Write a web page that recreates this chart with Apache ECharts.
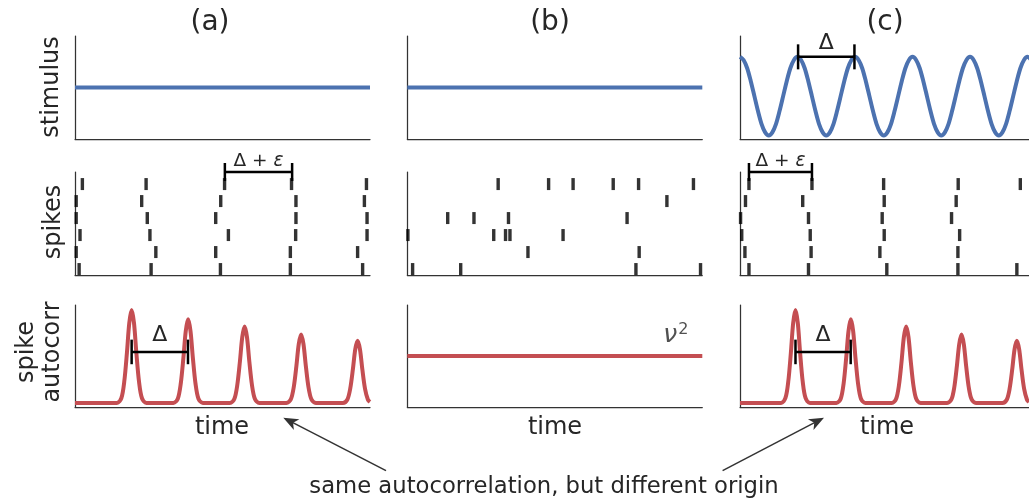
<!DOCTYPE html>
<html><head><meta charset="utf-8">
<script src="https://cdn.jsdelivr.net/npm/echarts@6/dist/echarts.min.js"></script>
<style>html,body{margin:0;padding:0;background:#fff}#chart{width:1029px;height:500px}</style>
</head><body><div id="chart"></div>
<script>
// ---------- text ----------
const panelTitles = ['(a)', '(b)', '(c)'];
const rowLabels = ['stimulus', 'spikes', 'spike\nautocorr'];
const xLabel = 'time';
const footnote = 'same autocorrelation, but different origin';

// ---------- data (time axis 0..100 for every panel) ----------
const stimFlat = [[0, 0], [100, 0]];
const stimOscX = [0, 1.24, 2.49, 3.73, 4.98, 6.22, 7.46, 8.71, 9.95, 11.19, 12.44, 13.68, 14.93, 16.17, 17.41, 18.66,
  19.9, 21.14, 22.39, 23.63, 24.88, 26.12, 27.36, 28.61, 29.85, 31.09, 32.34, 33.58, 34.83, 36.07, 37.31, 38.56,
  39.8, 41.04, 42.29, 43.53, 44.78, 46.02, 47.26, 48.51, 49.75, 50.99, 52.24, 53.48, 54.73, 55.97, 57.21, 58.46,
  59.7, 60.94, 62.19, 63.43, 64.68, 65.92, 67.16, 68.41, 69.65, 70.89, 72.14, 73.38, 74.63, 75.87, 77.11, 78.36,
  79.6, 80.84, 82.09, 83.33, 84.58, 85.82, 87.06, 88.31, 89.55, 90.79, 92.04, 93.28, 94.53, 95.77, 97.01, 98.26,
  99.5, 100.74];
const stimOscY = [1, .92, .71, .38, 0, -.38, -.71, -.92, -1, -.92, -.71, -.38, 0, .38, .71, .92,
  1, .92, .71, .38, 0, -.38, -.71, -.92, -1, -.92, -.71, -.38, 0, .38, .71, .92,
  1, .92, .71, .38, 0, -.38, -.71, -.92, -1, -.92, -.71, -.38, 0, .38, .71, .92,
  1, .92, .71, .38, 0, -.38, -.71, -.92, -1, -.92, -.71, -.38, 0, .38, .71, .92,
  1, .92, .71, .38, 0, -.38, -.71, -.92, -1, -.92, -.71, -.38, 0, .38, .71, .92,
  1, .92];

// spike times per trial, top trial first
const spikesA = [
  [2.5, 24.1, 50.7, 73.4, 98.8],
  [0.4, 22.6, 49.4, 74.9, 98.1],
  [0.4, 24.5, 47.7, 74.9, 99.0],
  [1.7, 25.4, 52.0, 74.8, 99.0],
  [0.4, 27.4, 47.7, 73.0, 95.8],
  [1.4, 25.8, 49.3, 73.0, 97.5]
];
const spikesB = [
  [30.8, 47.9, 56.2, 69.8, 78.4, 97.0],
  [88.0],
  [13.7, 22.6, 34.3, 74.5],
  [0.2, 29.3, 33.3, 34.8, 52.8],
  [40.9, 78.6],
  [1.8, 18.1, 77.5, 99.4]
];
const spikesC = [
  [3.1, 24.9, 49.7, 75.5, 97.0],
  [1.9, 21.7, 49.9, 74.8],
  [0.2, 23.7, 49.2, 73.2],
  [0.6, 24.3, 49.9, 76.0],
  [1.7, 24.6, 48.4, 75.4],
  [3.1, 23.7, 50.8, 75.4, 95.8]
];

const autocorrPeaked = [
  [0, .04],
  [14.2, .04], [15.7, .086], [16.7, .249], [17.6, .531], [18.4, .823], [19.2, .95], [20.0, .823], [20.8, .531], [21.7, .249], [22.7, .086], [24.2, .04],
  [33.35, .04], [34.85, .081], [35.85, .229], [36.75, .483], [37.55, .745], [38.35, .86], [39.15, .745], [39.95, .483], [40.85, .229], [41.85, .081], [43.35, .04],
  [52.5, .04], [54.0, .078], [55.0, .213], [55.9, .445], [56.7, .685], [57.5, .79], [58.3, .685], [59.1, .445], [60.0, .213], [61.0, .078], [62.5, .04],
  [71.65, .04], [73.15, .074], [74.15, .194], [75.05, .402], [75.85, .616], [76.65, .71], [77.45, .616], [78.25, .402], [79.15, .194], [80.15, .074], [81.65, .04],
  [90.8, .04], [92.3, .071], [93.3, .18], [94.2, .369], [95.0, .565], [95.8, .65], [96.6, .565], [97.4, .369], [98.3, .18], [99.3, .071], [100, .05]
];
const autocorrFlat = [[0, 0.5], [100, 0.5]];
const nuLabelPoint = [91.0, 0.705];

// annotation brackets: [start, end, level]
const bracketStimC = [20.1, 39.6, 1.0];
const bracketSpikesA = [50.8, 73.6, 5.71];
const bracketSpikesC = [3.1, 24.9, 5.71];
const bracketAutoA = [19.2, 38.3, 0.54];
const bracketAutoC = [19.2, 38.3, 0.54];

// ---------- layout / style ----------
const FONT = 'DejaVu Sans';
const TXT = '#262626';
const BLUE = '#4C72B0', RED = '#C44E52';
const colLeft = [75, 407.3, 740];
const colWidth = 295;
const rowTop = [36, 172, 305];
const rowHeight = [103, 103, 102];
const yRanges = [
  [[-1, 1], [-1, 1], [-1.09, 1.53]],
  [[-0.35, 5.71], [-0.35, 5.71], [-0.35, 5.71]],
  [[0, 1], [0, 1], [0, 1]]
];

const grids = [], xAxes = [], yAxes = [];
for (let r = 0; r < 3; r++) {
  for (let c = 0; c < 3; c++) {
    grids.push({left: colLeft[c], top: rowTop[r], width: colWidth, height: rowHeight[r]});
    const axLine = {show: true, onZero: false, lineStyle: {color: '#333', width: 1.25}};
    xAxes.push({type: 'value', gridIndex: r * 3 + c, min: 0, max: 100, axisLine: axLine, axisTick: {show: false}, axisLabel: {show: false}, splitLine: {show: false}});
    yAxes.push({type: 'value', gridIndex: r * 3 + c, min: yRanges[r][c][0], max: yRanges[r][c][1], axisLine: axLine, axisTick: {show: false}, axisLabel: {show: false}, splitLine: {show: false}});
  }
}

function lineSeries(idx, data, color, smooth) {
  return {type: 'line', xAxisIndex: idx, yAxisIndex: idx, data: data, showSymbol: false, symbol: 'none', smooth: smooth || false,
    lineStyle: {color: color, width: 4}, z: 3};
}
function spikeSeries(idx, trials) {
  const pts = [];
  trials.forEach((times, i) => times.forEach(t => pts.push([t, trials.length - 1 - i])));
  return {type: 'scatter', xAxisIndex: idx, yAxisIndex: idx, data: pts, symbol: 'rect', symbolSize: [3.4, 12],
    itemStyle: {color: '#000'}, z: 3};
}
function bracketSeries(idx, data, label, tickHalf, labelGap, rich) {
  return {
    type: 'custom', xAxisIndex: idx, yAxisIndex: idx, clip: false, z: 10, data: [data],
    renderItem: function (params, api) {
      const a = api.coord([api.value(0), api.value(2)]);
      const b = api.coord([api.value(1), api.value(2)]);
      const st = {stroke: '#000', lineWidth: 2.5};
      return {type: 'group', children: [
        {type: 'line', shape: {x1: a[0], y1: a[1], x2: b[0], y2: b[1]}, style: st},
        {type: 'line', shape: {x1: a[0], y1: a[1] - tickHalf, x2: a[0], y2: a[1] + tickHalf}, style: st},
        {type: 'line', shape: {x1: b[0], y1: b[1] - tickHalf, x2: b[0], y2: b[1] + tickHalf}, style: st},
        {type: 'text', x: (a[0] + b[0]) / 2, y: a[1] - labelGap,
          style: {text: label, fill: TXT, fontFamily: FONT, rich: rich, align: 'center', verticalAlign: 'middle', textAlign: 'center', textVerticalAlign: 'middle'}}
      ]};
    }
  };
}
const richDelta = {d: {fontSize: 22, fontFamily: FONT, fill: TXT, color: TXT}};
const richDeltaEps = {d: {fontSize: 18.5, fontFamily: FONT, fill: TXT, color: TXT}, e: {fontSize: 18.5, fontFamily: FONT, fontStyle: 'italic', fill: TXT, color: TXT}};

const series = [
  lineSeries(0, stimFlat, BLUE),
  lineSeries(1, stimFlat, BLUE),
  lineSeries(2, stimOscX.map((x, i) => [x, stimOscY[i]]), BLUE, 0.3),
  spikeSeries(3, spikesA),
  spikeSeries(4, spikesB),
  spikeSeries(5, spikesC),
  lineSeries(6, autocorrPeaked, RED, 0.3),
  lineSeries(7, autocorrFlat, RED),
  lineSeries(8, autocorrPeaked, RED, 0.3),
  bracketSeries(2, bracketStimC, '{d|Δ}', 12.5, 14, richDelta),
  bracketSeries(3, bracketSpikesA, '{d|Δ + }{e|ε}', 9, 11, richDeltaEps),
  bracketSeries(5, bracketSpikesC, '{d|Δ + }{e|ε}', 9, 11, richDeltaEps),
  bracketSeries(6, bracketAutoA, '{d|Δ}', 12.3, 16.5, richDelta),
  bracketSeries(8, bracketAutoC, '{d|Δ}', 12.3, 16.5, richDelta),
  {type: 'scatter', xAxisIndex: 7, yAxisIndex: 7, data: [nuLabelPoint], symbolSize: 0, z: 10,
    label: {show: true, position: 'inside', formatter: '{n|ν}{s|2}', lineHeight: 26,
      rich: {n: {fontSize: 25, fontStyle: 'italic', fontFamily: FONT, color: TXT, lineHeight: 26, verticalAlign: 'bottom'},
             s: {fontSize: 16, fontFamily: FONT, color: TXT, lineHeight: 16, verticalAlign: 'top', padding: [0, 0, 0, 1]}}}}
];

// graphic text & arrows (pure annotation)
function txt(x, y, text, size, rot, lh) {
  return {type: 'text', x: x, y: y, rotation: rot || 0, z: 20,
    style: {text: text, fill: TXT, fontSize: size, fontFamily: FONT, lineHeight: lh || size * 1.15,
      align: 'center', verticalAlign: 'middle', textAlign: 'center', textVerticalAlign: 'middle'}};
}
function arrow(x1, y1, x2, y2) {
  const dx = x2 - x1, dy = y2 - y1, L = Math.hypot(dx, dy), ux = dx / L, uy = dy / L;
  const hl = 15, hw = 6, notch = 4;
  const bx = x2 - ux * hl, by = y2 - uy * hl;
  const px = -uy, py = ux;
  return [
    {type: 'line', z: 20, shape: {x1: x1, y1: y1, x2: x2 - ux * 8, y2: y2 - uy * 8}, style: {stroke: '#333', lineWidth: 1.5}},
    {type: 'polygon', z: 20, shape: {points: [[x2, y2], [bx + px * hw, by + py * hw], [x2 - ux * (hl - notch), y2 - uy * (hl - notch)], [bx - px * hw, by - py * hw]]},
      style: {fill: '#333'}}
  ];
}
const graphics = [
  txt(210, 23, panelTitles[0], 28), txt(550, 23, panelTitles[1], 28), txt(885, 23, panelTitles[2], 28),
  txt(52, 87, rowLabels[0], 24, Math.PI / 2),
  txt(54, 222, rowLabels[1], 24, Math.PI / 2),
  txt(40, 352, rowLabels[2], 24, Math.PI / 2, 26),
  txt(222, 428, xLabel, 24), txt(555, 428, xLabel, 24), txt(887, 428, xLabel, 24),
  txt(544, 487, footnote, 22.7)
].concat(arrow(386, 470.7, 283.3, 417.7), arrow(722.6, 470.7, 824, 417.7));

const chart = echarts.init(document.getElementById('chart'), null, {renderer: 'canvas'});
chart.setOption({
  animation: false,
  backgroundColor: '#fff',
  textStyle: {fontFamily: FONT},
  grid: grids, xAxis: xAxes, yAxis: yAxes,
  series: series,
  graphic: graphics
});
</script></body></html>
